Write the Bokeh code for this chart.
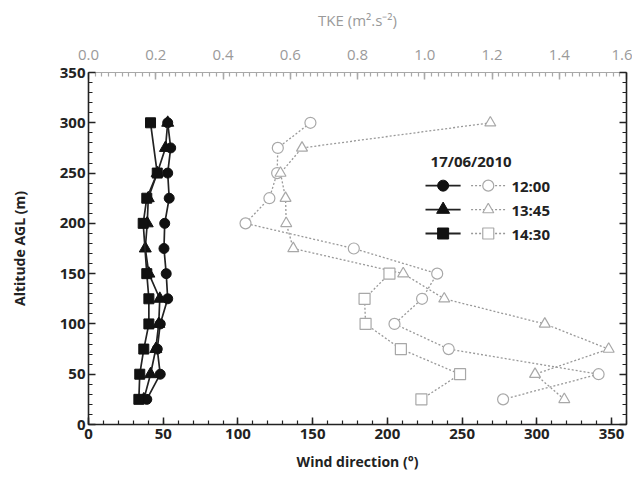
from bokeh.plotting import figure
from bokeh.models import Range1d, LinearAxis, SingleIntervalTicker, PrintfTickFormatter, CustomJSTickFormatter
from bokeh.embed import file_html
from bokeh.resources import INLINE
from bokeh.core.properties import value

# ---- data ----
alt = [25, 50, 75, 100, 125, 150, 175, 200, 225, 250, 275, 300]
wd_1200 = [39, 48, 46, 48, 53, 52, 50.5, 51, 54, 53, 55, 53]
wd_1345 = [37, 41.5, 45, 47, 47.7, 40.4, 38, 39.3, 40, 46, 51.5, 53]
alt_sq = [25, 50, 75, 100, 125, 150, 200, 225, 250, 300]
wd_1430 = [33.7, 34.3, 37, 40.4, 40.4, 39, 36.6, 39, 46, 41.5]

tke_1200 = [1.233, 1.517, 1.071, 0.910, 0.992, 1.037, 0.789, 0.467, 0.538, 0.561, 0.563, 0.660]
tke_1345 = [1.415, 1.328, 1.547, 1.357, 1.058, 0.936, 0.609, 0.588, 0.586, 0.571, 0.635, 1.195]
alt_tke_sq = [25, 50, 75, 100, 125, 150]
tke_1430 = [0.990, 1.105, 0.929, 0.824, 0.821, 0.895]

legend_title = "17/06/2010"
legend_labels = ["12:00", "13:45", "14:30"]
markers = ["circle", "triangle", "square"]

FONT = "Open Sans"
GRAY = "#a8a8a8"

p = figure(frame_width=538, frame_height=352, output_backend="svg", toolbar_location=None,
           x_range=Range1d(0, 360), y_range=Range1d(0, 350),
           x_axis_location=None, y_axis_location=None,
           min_border_left=88, min_border_top=72, min_border_bottom=55, min_border_right=6)
p.extra_x_ranges = {"tke": Range1d(0, 1.6)}
p.xgrid.visible = False
p.ygrid.visible = False
p.outline_line_color = None
p.background_fill_color = "white"


def style_axis(ax, color, bold=True):
    ax.axis_line_color = color
    ax.axis_line_width = 1.6
    ax.major_tick_line_color = color
    ax.minor_tick_line_color = color
    ax.major_tick_line_width = 1.5
    ax.minor_tick_line_width = 1.2
    ax.major_tick_in = 7
    ax.major_tick_out = 0
    ax.minor_tick_in = 4
    ax.minor_tick_out = 0
    ax.major_label_text_font = FONT
    ax.major_label_text_font_size = "15px"
    ax.major_label_text_font_style = "bold" if bold else "normal"
    ax.major_label_text_color = "#222222" if bold else "#9a9a9a"
    ax.axis_label_text_font = FONT
    ax.axis_label_text_font_size = "14px"
    ax.axis_label_text_font_style = "bold" if bold else "normal"
    ax.axis_label_text_color = "#222222" if bold else "#9a9a9a"
    ax.major_label_standoff = 4


bottom = LinearAxis(ticker=SingleIntervalTicker(interval=50, num_minor_ticks=5),
                    axis_label="Wind direction (°)")
style_axis(bottom, "#222222")
bottom.axis_label_standoff = 10
p.add_layout(bottom, "below")

left = LinearAxis(ticker=SingleIntervalTicker(interval=50, num_minor_ticks=5),
                  axis_label="Altitude AGL (m)")
style_axis(left, "#222222")
left.major_label_standoff = 3
left.axis_label_standoff = 28
p.add_layout(left, "left")

right = LinearAxis(ticker=SingleIntervalTicker(interval=50, num_minor_ticks=5),
                   formatter=CustomJSTickFormatter(code="return ''"))
style_axis(right, "#222222")
right.major_label_standoff = 0
p.add_layout(right, "right")

top = LinearAxis(x_range_name="tke", ticker=SingleIntervalTicker(interval=0.2, num_minor_ticks=10),
                 axis_label="TKE (m².s⁻²)", formatter=PrintfTickFormatter(format="%.1f"))
style_axis(top, GRAY, bold=False)
top.axis_line_width = 1.2
top.major_label_standoff = 13
top.axis_label_standoff = 17
top.axis_label_text_font_size = "15px"
p.add_layout(top, "above")

# ---- TKE (open gray markers, dotted lines) ----
tke_series = [(tke_1200, alt), (tke_1345, alt), (tke_1430, alt_tke_sq)]
for (xs, ys), m in zip(tke_series, markers):
    p.line(xs, ys, x_range_name="tke", line_color="#999999", line_width=1.3, line_dash="2 2")
    p.scatter(xs, ys, x_range_name="tke", marker=m, size=11, fill_color="white",
              line_color=GRAY, line_width=1.2)

# ---- wind direction (black filled markers, solid lines) ----
wd_series = [(wd_1200, alt), (wd_1345, alt), (wd_1430, alt_sq)]
for (xs, ys), m in zip(wd_series, markers):
    p.line(xs, ys, line_color="#222222", line_width=1.7)
    p.scatter(xs, ys, marker=m, size=10 if m != "triangle" else 12,
              fill_color="#111111", line_color="#111111")

# ---- custom legend (in data coordinates) ----
leg_y = [237.5, 213.7, 189.9]
for yy, m, lab in zip(leg_y, markers, legend_labels):
    p.line([225.5, 249.0], [yy, yy], line_color="#222222", line_width=1.8)
    p.scatter([237.3], [yy], marker=m, size=11 if m != "triangle" else 13,
              fill_color="#111111", line_color="#111111")
    p.line([256.0, 279.0], [yy, yy], line_color="#999999", line_width=1.3, line_dash="2 2")
    p.scatter([267.5], [yy], marker=m, size=11, fill_color="white",
              line_color=GRAY, line_width=1.2)
    p.text([283.0], [yy], text=[lab], text_font=value(FONT), text_font_size="15px",
           text_font_style="bold", text_color="#222222", text_baseline="middle", text_align="left")
p.text([256.0], [262.0], text=[legend_title], text_font=value(FONT), text_font_size="15px",
       text_font_style="bold", text_color="#222222", text_baseline="middle", text_align="center")

open("out.html", "w").write(file_html(p, INLINE))
